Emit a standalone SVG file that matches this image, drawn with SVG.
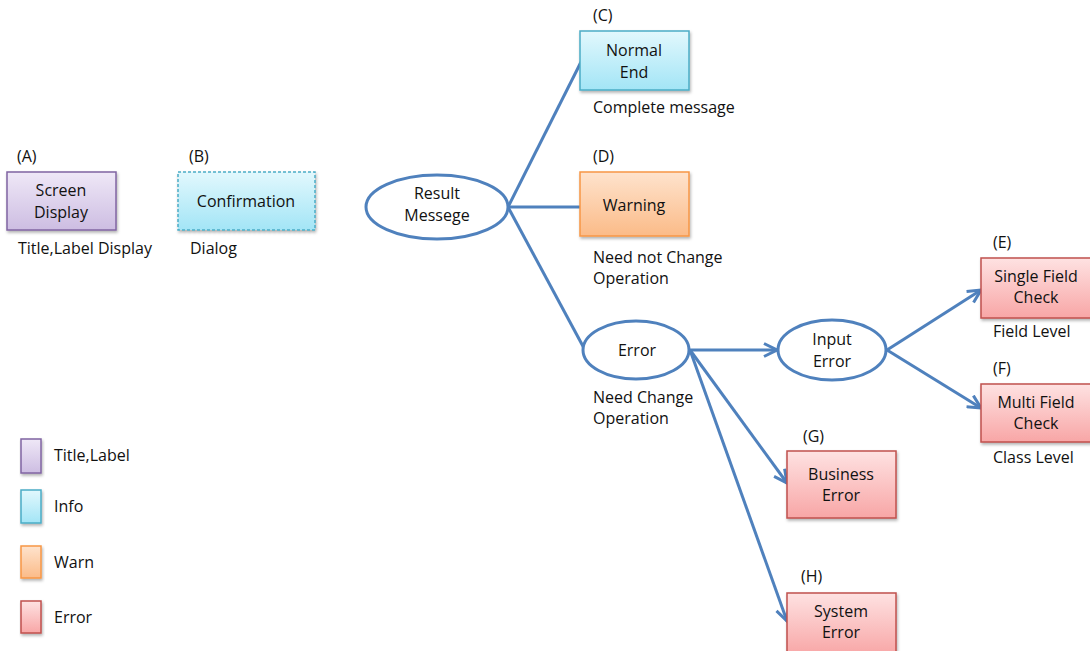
<svg xmlns="http://www.w3.org/2000/svg" width="1090" height="651" viewBox="0 0 1090 651">
<style>
text{font-family:"Open Sans","Liberation Sans",sans-serif;font-size:16px;fill:#111}
.c{text-anchor:middle}
.box{stroke-width:1.5}
.purple{fill:url(#gP);stroke:#8064a2}
.cyan{fill:url(#gC);stroke:#4bacc6}
.orange{fill:url(#gO);stroke:#f79646}
.red{fill:url(#gR);stroke:#c0504d}
.ell{fill:#fff;stroke:#4f81bd;stroke-width:3}
.ln{stroke:#4f81bd;stroke-width:3;fill:none}
</style>
<defs>
<linearGradient id="gP" x1="0" y1="0" x2="0" y2="1"><stop offset="0" stop-color="#efe8f7"/><stop offset="1" stop-color="#cdbde2"/></linearGradient>
<linearGradient id="gC" x1="0" y1="0" x2="0" y2="1"><stop offset="0" stop-color="#e2f8fd"/><stop offset="1" stop-color="#a3e5f6"/></linearGradient>
<linearGradient id="gO" x1="0" y1="0" x2="0" y2="1"><stop offset="0" stop-color="#fee3cd"/><stop offset="1" stop-color="#fbbb88"/></linearGradient>
<linearGradient id="gR" x1="0" y1="0" x2="0" y2="1"><stop offset="0" stop-color="#fee2e2"/><stop offset="1" stop-color="#f8a6a6"/></linearGradient>
<filter id="sh" x="-10%" y="-10%" width="130%" height="140%"><feDropShadow dx="1" dy="2" stdDeviation="1.5" flood-color="#000" flood-opacity="0.3"/></filter>
<marker id="ar" viewBox="0 0 16 16" refX="14.5" refY="8" markerWidth="16" markerHeight="16" markerUnits="userSpaceOnUse" orient="auto"><path d="M1.5,1.5 L14.5,8 L1.5,14.5" fill="none" stroke="#4f81bd" stroke-width="3" stroke-linejoin="miter"/></marker>
</defs>

<g id="connectors">
<line class="ln" x1="508" y1="207" x2="581" y2="62"/>
<line class="ln" x1="508" y1="207" x2="580" y2="207"/>
<line class="ln" x1="508" y1="207" x2="585" y2="350"/>
<line class="ln" x1="690" y1="350" x2="777" y2="350" marker-end="url(#ar)"/>
<line class="ln" x1="690" y1="350" x2="787" y2="483" marker-end="url(#ar)"/>
<line class="ln" x1="690" y1="350" x2="787" y2="621" marker-end="url(#ar)"/>
<line class="ln" x1="887" y1="350" x2="981" y2="290" marker-end="url(#ar)"/>
<line class="ln" x1="887" y1="350" x2="981" y2="408" marker-end="url(#ar)"/>
</g>

<g id="nodeA">
<text x="17" y="162">(A)</text>
<rect class="box purple" x="7" y="172" width="109" height="58" filter="url(#sh)"/>
<text class="c" x="61" y="196">Screen</text>
<text class="c" x="61" y="218">Display</text>
<text x="18" y="254">Title,Label Display</text>
</g>

<g id="nodeB">
<text x="189" y="162">(B)</text>
<rect class="box cyan" x="178" y="172" width="137" height="58" stroke-dasharray="3,2" filter="url(#sh)"/>
<text class="c" x="246" y="207">Confirmation</text>
<text x="190" y="254">Dialog</text>
</g>

<g id="nodeResult">
<ellipse class="ell" cx="437" cy="207" rx="71" ry="32"/>
<text class="c" x="437" y="199">Result</text>
<text class="c" x="437" y="221">Messege</text>
</g>

<g id="nodeC">
<text x="593" y="21">(C)</text>
<rect class="box cyan" x="580" y="31" width="109" height="59" filter="url(#sh)"/>
<text class="c" x="634" y="56">Normal</text>
<text class="c" x="634" y="78">End</text>
<text x="593" y="113">Complete message</text>
</g>

<g id="nodeD">
<text x="593" y="162">(D)</text>
<rect class="box orange" x="580" y="172" width="109" height="64" filter="url(#sh)"/>
<text class="c" x="634" y="211">Warning</text>
<text x="593" y="263">Need not Change</text>
<text x="593" y="284">Operation</text>
</g>

<g id="nodeError">
<ellipse class="ell" cx="636" cy="350" rx="53" ry="29"/>
<text class="c" x="637" y="356">Error</text>
<text x="593" y="403">Need Change</text>
<text x="593" y="424">Operation</text>
</g>

<g id="nodeInput">
<ellipse class="ell" cx="832" cy="350" rx="54" ry="30"/>
<text class="c" x="832" y="345">Input</text>
<text class="c" x="832" y="367">Error</text>
</g>

<g id="nodeE">
<text x="993" y="248">(E)</text>
<rect class="box red" x="981" y="258" width="112" height="60" filter="url(#sh)"/>
<text class="c" x="1036" y="282">Single Field</text>
<text class="c" x="1036" y="303">Check</text>
<text x="993" y="337">Field Level</text>
</g>

<g id="nodeF">
<text x="993" y="374">(F)</text>
<rect class="box red" x="981" y="384" width="112" height="58" filter="url(#sh)"/>
<text class="c" x="1036" y="408">Multi Field</text>
<text class="c" x="1036" y="429">Check</text>
<text x="993" y="463">Class Level</text>
</g>

<g id="nodeG">
<text x="803" y="442">(G)</text>
<rect class="box red" x="787" y="451" width="109" height="67" filter="url(#sh)"/>
<text class="c" x="841" y="480">Business</text>
<text class="c" x="841" y="501">Error</text>
</g>

<g id="nodeH">
<text x="801" y="582">(H)</text>
<rect class="box red" x="787" y="593" width="109" height="62" filter="url(#sh)"/>
<text class="c" x="841" y="617">System</text>
<text class="c" x="841" y="638">Error</text>
</g>

<g id="legend">
<rect class="box purple" x="21" y="439" width="20" height="34" filter="url(#sh)"/>
<text x="54" y="461">Title,Label</text>
<rect class="box cyan" x="21" y="490" width="20" height="33" filter="url(#sh)"/>
<text x="54" y="512">Info</text>
<rect class="box orange" x="21" y="546" width="20" height="32" filter="url(#sh)"/>
<text x="54" y="568">Warn</text>
<rect class="box red" x="21" y="601" width="20" height="32" filter="url(#sh)"/>
<text x="54" y="623">Error</text>
</g>
</svg>
